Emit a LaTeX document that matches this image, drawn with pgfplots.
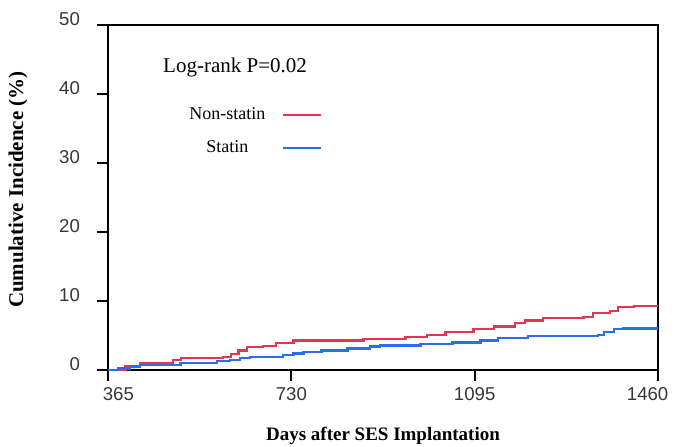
\documentclass[border=0pt]{standalone}
\usepackage{fontspec}
\setmainfont{Liberation Serif}
\newfontfamily\tickfont{Liberation Sans}
\usepackage{pgfplots}
\pgfplotsset{compat=1.18}

\definecolor{nonstatin}{RGB}{232,52,78}
\definecolor{statin}{RGB}{40,112,232}
\definecolor{ticktext}{RGB}{55,55,55}

\begin{document}
\begin{tikzpicture}
\path[use as bounding box] (-54pt,-38pt) rectangle (283.5pt,185pt);
\begin{axis}[
    scale only axis,
    width=275pt, height=172.5pt,
    xmin=365, xmax=1460,
    ymin=0, ymax=50,
    xtick={365,730,1095,1460},
    xticklabels={\hphantom{00}365, 730, 1095, 1460\hphantom{00}},
    ytick={0,10,20,30,40,50},
    xtick pos=bottom, ytick pos=left,
    tick align=outside,
    major tick length=5.5pt,
    axis line style={line width=1pt},
    every tick/.style={black, line width=1pt},
    /pgf/number format/assume math mode=true,
    /pgf/number format/1000 sep={},
    ticklabel style={font=\tickfont\fontsize{9.3}{10}\selectfont, text=ticktext},
    xticklabel style={yshift=0.5pt},
    yticklabel style={xshift=-5pt, yshift=3pt},
    xlabel={\textbf{Days after SES Implantation}},
    ylabel={\textbf{Cumulative Incidence (\%)}},
    xlabel style={font=\fontsize{9.5}{11}\selectfont, yshift=-6.5pt},
    ylabel style={font=\fontsize{10.5}{12}\selectfont, at={(ticklabel cs:0.523)}, yshift=9pt},
    legend plot pos=right,
    legend cell align=center,
    legend style={draw=none, fill=none, at={(0.401,0.785)}, anchor=north east,
        font=\fontsize{9}{10}\selectfont, row sep=5pt,
        /tikz/every odd column/.append style={column sep=6pt}},
    legend image code/.code={\draw[#1, line width=1.4pt] (0pt,0pt) -- (19pt,0pt);},
]
\addplot[const plot, nonstatin, line width=1.2pt] coordinates {
(365,0) (400,0.5) (429,1.0) (495,1.45) (510,1.7) (594,1.9) (610,2.3) (625,2.8)
(642,3.3) (674,3.5) (700,3.9) (734,4.25) (874,4.5) (957,4.8) (1000,5.1)
(1037,5.55) (1093,5.9) (1133,6.3) (1175,6.8) (1195,7.15) (1231,7.5) (1312,7.7)
(1330,8.3) (1365,8.55) (1380,9.1) (1412,9.3) (1460,9.3)
};
\addlegendentry{Non-statin}
\addplot[const plot, statin, line width=1.2pt] coordinates {
(365,0) (385,0.2) (409,0.5) (429,0.7) (509,1.0) (582,1.3) (608,1.45) (628,1.7)
(648,1.9) (714,2.2) (734,2.4) (754,2.65) (790,2.8) (842,3.1) (887,3.4)
(907,3.55) (987,3.75) (1051,4.0) (1107,4.25) (1141,4.6) (1201,4.9) (1341,5.05)
(1352,5.55) (1372,5.9) (1390,6.0) (1460,6.0)
};
\addlegendentry{Statin}
\node[font=\fontsize{10.5}{12}\selectfont] at (axis cs:618,43.8) {Log-rank P=0.02};
\end{axis}
\end{tikzpicture}
\end{document}
